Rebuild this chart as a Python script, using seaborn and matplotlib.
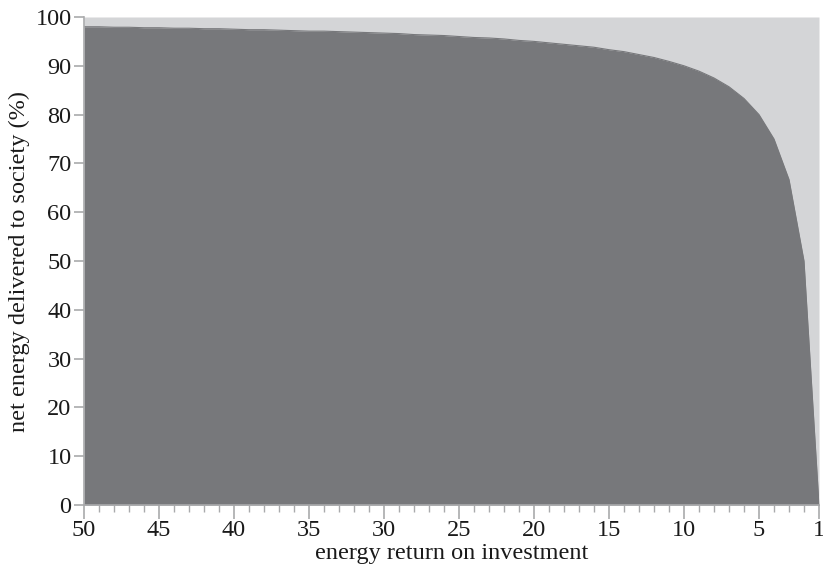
import matplotlib
matplotlib.use("Agg")
import matplotlib.pyplot as plt
from matplotlib.ticker import MultipleLocator
import seaborn as sns
import pandas as pd

# Energy return on investment (EROI) and the share of gross energy left for society
eroi = list(range(1, 51))
net_energy = [
    0.0, 50.0, 66.7, 75.0, 80.0, 83.3, 85.7, 87.5, 88.9, 90.0,
    90.9, 91.7, 92.3, 92.9, 93.3, 93.8, 94.1, 94.4, 94.7, 95.0,
    95.2, 95.5, 95.7, 95.8, 96.0, 96.2, 96.3, 96.4, 96.6, 96.7,
    96.8, 96.9, 97.0, 97.1, 97.1, 97.2, 97.3, 97.4, 97.4, 97.5,
    97.6, 97.6, 97.7, 97.7, 97.8, 97.8, 97.9, 97.9, 98.0, 98.0,
]
x_ticks = [50, 45, 40, 35, 30, 25, 20, 15, 10, 5, 1]
y_ticks = [0, 10, 20, 30, 40, 50, 60, 70, 80, 90, 100]

df = pd.DataFrame({"eroi": eroi, "net": net_energy})

sns.set_style("ticks")
plt.rcParams["font.family"] = ["Liberation Serif", "DejaVu Serif"]

dark = "#77787b"
light = "#d4d5d7"
spine = "#a9aaac"
ink = "#1a1a1a"
fs = 17.5

fig = plt.figure(figsize=(8.23, 5.71), dpi=100)
ax = fig.add_axes([84 / 823, 1 - 505 / 571, (819 - 84) / 823, (505 - 17) / 571])

# energy spent on obtaining energy (upper band) and net energy (lower area)
ax.fill_between(df["eroi"], df["net"], 100, color=light, linewidth=0)
ax.fill_between(df["eroi"], 0, df["net"], color=dark, linewidth=0)
sns.lineplot(data=df, x="eroi", y="net", ax=ax, color=dark, linewidth=0.8)

ax.set_xlim(50, 1)
ax.set_ylim(0, 100)
ax.set_xticks(x_ticks)
ax.xaxis.set_minor_locator(MultipleLocator(1))
ax.set_yticks(y_ticks)

for side in ("top", "right"):
    ax.spines[side].set_visible(False)
for side in ("left", "bottom"):
    ax.spines[side].set_color(spine)
    ax.spines[side].set_linewidth(1.2)

ax.tick_params(axis="both", which="major", labelsize=fs, color=spine,
               width=1.2, labelcolor=ink)
ax.tick_params(axis="y", which="major", length=7, pad=2)
ax.tick_params(axis="x", which="major", length=10, pad=1)
ax.tick_params(axis="x", which="minor", length=5, width=1.0, color=spine)

ax.set_xlabel("energy return on investment", fontsize=fs, color=ink, labelpad=1)
ax.set_ylabel("net energy delivered to society (%)", fontsize=fs, color=ink, labelpad=4)

fig.savefig("out.png", dpi=100)
